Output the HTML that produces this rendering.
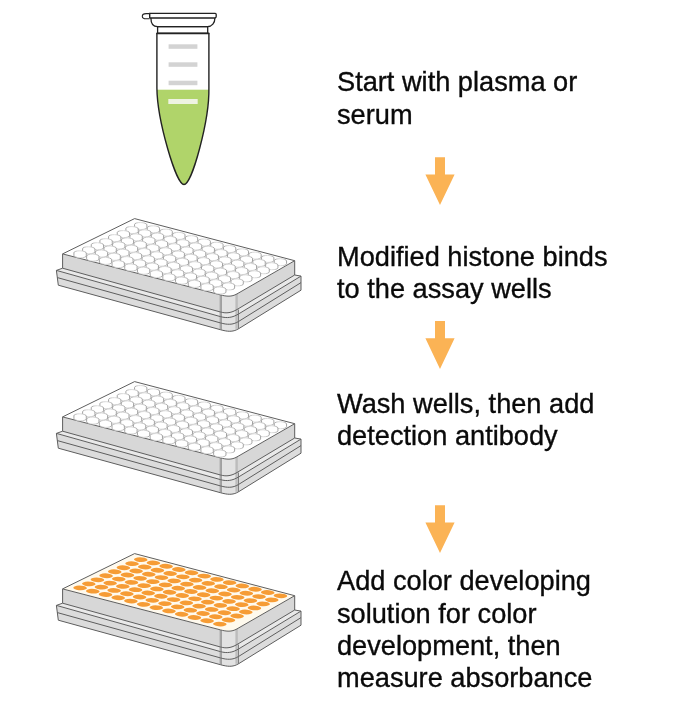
<!DOCTYPE html>
<html><head><meta charset="utf-8"><style>
html,body{margin:0;padding:0;background:#fff;}
body{width:700px;height:714px;overflow:hidden;}
svg{display:block;}
text{font-family:"Liberation Sans",sans-serif;font-size:27.2px;fill:#0a0a0a;stroke:#0a0a0a;stroke-width:0.35px;}
.tx{filter:blur(0.25px);}
.gr{filter:blur(0.3px);}
</style></head><body>
<svg width="700" height="714" viewBox="0 0 700 714">
<defs><linearGradient id="wg" x1="0" y1="0" x2="1" y2="0"><stop offset="0" stop-color="#969696"/><stop offset="0.25" stop-color="#c8c8c8"/><stop offset="0.5" stop-color="#dadada"/><stop offset="0.75" stop-color="#c8c8c8"/><stop offset="1" stop-color="#969696"/></linearGradient></defs>
<g class="gr">
<path d="M156.9,33 L156.9,88 C157.2,120 176,184.5 184,184.5 C192,184.5 209.5,120 208.9,88 L208.9,33 Z" fill="#fff"/>
<clipPath id="tc"><path d="M156.9,33 L156.9,88 C157.2,120 176,184.5 184,184.5 C192,184.5 209.5,120 208.9,88 L208.9,33 Z"/></clipPath>
<rect x="150" y="89.7" width="70" height="100" fill="#B0D46A" clip-path="url(#tc)"/>
<rect x="168.6" y="44.3" width="28.8" height="4.5" fill="#d3d3d3"/>
<rect x="168.6" y="62.3" width="28.8" height="4.5" fill="#d3d3d3"/>
<rect x="168.6" y="80.7" width="28.8" height="4.5" fill="#d3d3d3"/>
<rect x="168.3" y="99" width="29.4" height="5" fill="#eef3e2"/>
<path d="M156.9,33 L156.9,88 C157.2,120 176,184.5 184,184.5 C192,184.5 209.5,120 208.9,88 L208.9,33" fill="none" stroke="#222" stroke-width="1.4"/>
<path d="M157.6,26.6 L207.7,26.6 L207.7,33.3 L157.6,33.3 Z" fill="#fff" stroke="#222" stroke-width="1.3"/>
<line x1="156.5" y1="33.3" x2="209.3" y2="33.3" stroke="#222" stroke-width="1.8"/>
<path d="M150.9,17.9 C150.9,23 153,26.6 157.6,26.6 L207.5,26.6 C212,26.6 214.9,23 214.9,17.9" fill="#fff" stroke="#222" stroke-width="1.3"/>
<path d="M149.6,13.4 L215.2,13.4 Q216.2,13.4 216.2,14.6 L216.2,16.6 Q216.2,18 214.8,18 L149.6,18 Z" fill="#fff" stroke="#222" stroke-width="1.3"/>
<path d="M149.6,13.6 L146.2,13.6 C143.6,13.6 142.3,15 142.3,16.2 C142.3,17.5 143.6,18.8 146.2,18.8 L149.6,18.8" fill="#fff" stroke="#222" stroke-width="1.1"/>
<line x1="149.6" y1="13.4" x2="149.6" y2="18" stroke="#222" stroke-width="1.2"/>
<path d="M56.40,270.40 L220.40,316.60 C227.09,318.48 232.56,317.60 238.50,314.00 L301.00,276.10 L301.00,290.20 L238.50,328.80 C232.64,332.42 227.04,331.52 220.40,329.70 L58.30,285.20 Z" fill="#dcdcdc"/>
<path d="M220.40,316.60 C227.09,318.48 232.56,317.60 238.50,314.00 L238.50,328.80 C232.64,332.42 227.04,331.52 220.40,329.70 Z" fill="#e2e2e2"/>
<path d="M62.60,268.20 L220.50,312.00 C226.61,313.70 231.56,312.75 237.00,309.50 L294.70,275.00 L301.00,276.10 L238.50,314.00 C232.56,317.60 227.09,318.48 220.40,316.60 L56.40,270.40 Z" fill="#e9e9e9"/>
<path d="M62.60,253.90 L220.50,294.90 C226.58,296.48 231.56,297.03 237.00,293.90 L294.70,260.70 L294.70,275.00 L237.00,309.50 C231.56,312.75 226.61,313.70 220.50,312.00 L62.60,268.20 Z" fill="#d7d7d7"/>
<path d="M220.50,294.90 C226.58,296.48 231.56,297.03 237.00,293.90 L237.00,309.50 C231.56,312.75 226.61,313.70 220.50,312.00 Z" fill="#e2e2e2"/>
<rect x="219.30" y="294.90" width="2.4" height="34.80" fill="#bcbcbc"/>
<rect x="235.40" y="293.90" width="2.4" height="34.90" fill="#bcbcbc"/>
<path d="M62.60,268.20 L220.50,312.00 C226.61,313.70 231.56,312.75 237.00,309.50 L294.70,275.00" fill="none" stroke="#5e5e5e" stroke-width="1.0"/>
<path d="M56.40,270.40 L220.40,316.60 C227.09,318.48 232.56,317.60 238.50,314.00 L301.00,276.10" fill="none" stroke="#5e5e5e" stroke-width="1.0"/>
<path d="M57.40,277.60 L220.40,322.90 C227.05,324.75 232.64,325.15 238.50,321.50 L301.00,282.60" fill="none" stroke="#5e5e5e" stroke-width="1.0"/>
<path d="M58.30,285.20 L220.40,329.70 C227.04,331.52 232.64,332.42 238.50,328.80 L301.00,290.20" fill="none" stroke="#5e5e5e" stroke-width="1.0"/>
<line x1="62.60" y1="253.90" x2="62.60" y2="268.20" stroke="#5e5e5e" stroke-width="1.0"/>
<line x1="62.60" y1="268.20" x2="56.40" y2="270.40" stroke="#5e5e5e" stroke-width="1.0"/>
<line x1="56.40" y1="270.40" x2="58.30" y2="285.20" stroke="#5e5e5e" stroke-width="1.0"/>
<line x1="294.70" y1="260.70" x2="294.70" y2="275.00" stroke="#5e5e5e" stroke-width="1.0"/>
<line x1="294.70" y1="275.00" x2="301.00" y2="276.10" stroke="#5e5e5e" stroke-width="1.0"/>
<line x1="301.00" y1="276.10" x2="301.00" y2="290.20" stroke="#5e5e5e" stroke-width="1.0"/>
<line x1="221.10" y1="294.90" x2="221.10" y2="329.70" stroke="#777" stroke-width="0.8"/>
<line x1="238.50" y1="309.50" x2="238.50" y2="328.80" stroke="#666" stroke-width="0.8"/>
<path d="M62.60,253.90 L134.60,218.60 L294.70,260.70 L237.00,293.90 C231.56,297.03 226.58,296.48 220.50,294.90 Z" fill="#fff" stroke="#5e5e5e" stroke-width="1.0" stroke-linejoin="round"/>
<path d="M134.57,224.44 A6.152,2.076 -178.14 0 1 146.87,224.80 L146.87,227.60 A6.152,2.076 -178.14 0 1 134.57,227.24 Z" fill="#fff" stroke="url(#wg)" stroke-width="0.9"/>
<path d="M147.27,227.73 A6.152,2.076 -178.14 0 1 159.57,228.09 L159.57,230.89 A6.152,2.076 -178.14 0 1 147.27,230.53 Z" fill="#fff" stroke="url(#wg)" stroke-width="0.9"/>
<path d="M125.91,228.48 A6.152,2.076 -178.14 0 1 138.21,228.84 L138.21,231.64 A6.152,2.076 -178.14 0 1 125.91,231.28 Z" fill="#fff" stroke="url(#wg)" stroke-width="0.9"/>
<path d="M159.97,231.02 A6.152,2.076 -178.14 0 1 172.27,231.38 L172.27,234.18 A6.152,2.076 -178.14 0 1 159.97,233.82 Z" fill="#fff" stroke="url(#wg)" stroke-width="0.9"/>
<path d="M138.61,231.77 A6.152,2.076 -178.14 0 1 150.91,232.13 L150.91,234.93 A6.152,2.076 -178.14 0 1 138.61,234.57 Z" fill="#fff" stroke="url(#wg)" stroke-width="0.9"/>
<path d="M117.25,232.52 A6.152,2.076 -178.14 0 1 129.55,232.88 L129.55,235.68 A6.152,2.076 -178.14 0 1 117.25,235.32 Z" fill="#fff" stroke="url(#wg)" stroke-width="0.9"/>
<path d="M172.67,234.31 A6.152,2.076 -178.14 0 1 184.97,234.67 L184.97,237.47 A6.152,2.076 -178.14 0 1 172.67,237.11 Z" fill="#fff" stroke="url(#wg)" stroke-width="0.9"/>
<path d="M151.31,235.06 A6.152,2.076 -178.14 0 1 163.61,235.42 L163.61,238.22 A6.152,2.076 -178.14 0 1 151.31,237.86 Z" fill="#fff" stroke="url(#wg)" stroke-width="0.9"/>
<path d="M129.95,235.81 A6.152,2.076 -178.14 0 1 142.25,236.17 L142.25,238.97 A6.152,2.076 -178.14 0 1 129.95,238.61 Z" fill="#fff" stroke="url(#wg)" stroke-width="0.9"/>
<path d="M108.59,236.56 A6.152,2.076 -178.14 0 1 120.89,236.92 L120.89,239.72 A6.152,2.076 -178.14 0 1 108.59,239.36 Z" fill="#fff" stroke="url(#wg)" stroke-width="0.9"/>
<path d="M185.37,237.60 A6.152,2.076 -178.14 0 1 197.67,237.96 L197.67,240.76 A6.152,2.076 -178.14 0 1 185.37,240.40 Z" fill="#fff" stroke="url(#wg)" stroke-width="0.9"/>
<path d="M164.01,238.35 A6.152,2.076 -178.14 0 1 176.31,238.71 L176.31,241.51 A6.152,2.076 -178.14 0 1 164.01,241.15 Z" fill="#fff" stroke="url(#wg)" stroke-width="0.9"/>
<path d="M142.65,239.10 A6.152,2.076 -178.14 0 1 154.95,239.46 L154.95,242.26 A6.152,2.076 -178.14 0 1 142.65,241.90 Z" fill="#fff" stroke="url(#wg)" stroke-width="0.9"/>
<path d="M121.29,239.85 A6.152,2.076 -178.14 0 1 133.59,240.21 L133.59,243.01 A6.152,2.076 -178.14 0 1 121.29,242.65 Z" fill="#fff" stroke="url(#wg)" stroke-width="0.9"/>
<path d="M99.93,240.60 A6.152,2.076 -178.14 0 1 112.23,240.96 L112.23,243.76 A6.152,2.076 -178.14 0 1 99.93,243.40 Z" fill="#fff" stroke="url(#wg)" stroke-width="0.9"/>
<path d="M198.07,240.89 A6.152,2.076 -178.14 0 1 210.37,241.25 L210.37,244.05 A6.152,2.076 -178.14 0 1 198.07,243.69 Z" fill="#fff" stroke="url(#wg)" stroke-width="0.9"/>
<path d="M176.71,241.64 A6.152,2.076 -178.14 0 1 189.01,242.00 L189.01,244.80 A6.152,2.076 -178.14 0 1 176.71,244.44 Z" fill="#fff" stroke="url(#wg)" stroke-width="0.9"/>
<path d="M155.35,242.39 A6.152,2.076 -178.14 0 1 167.65,242.75 L167.65,245.55 A6.152,2.076 -178.14 0 1 155.35,245.19 Z" fill="#fff" stroke="url(#wg)" stroke-width="0.9"/>
<path d="M133.99,243.14 A6.152,2.076 -178.14 0 1 146.29,243.50 L146.29,246.30 A6.152,2.076 -178.14 0 1 133.99,245.94 Z" fill="#fff" stroke="url(#wg)" stroke-width="0.9"/>
<path d="M112.63,243.89 A6.152,2.076 -178.14 0 1 124.93,244.25 L124.93,247.05 A6.152,2.076 -178.14 0 1 112.63,246.69 Z" fill="#fff" stroke="url(#wg)" stroke-width="0.9"/>
<path d="M210.77,244.18 A6.152,2.076 -178.14 0 1 223.07,244.54 L223.07,247.34 A6.152,2.076 -178.14 0 1 210.77,246.98 Z" fill="#fff" stroke="url(#wg)" stroke-width="0.9"/>
<path d="M91.27,244.64 A6.152,2.076 -178.14 0 1 103.57,245.00 L103.57,247.80 A6.152,2.076 -178.14 0 1 91.27,247.44 Z" fill="#fff" stroke="url(#wg)" stroke-width="0.9"/>
<path d="M189.41,244.93 A6.152,2.076 -178.14 0 1 201.71,245.29 L201.71,248.09 A6.152,2.076 -178.14 0 1 189.41,247.73 Z" fill="#fff" stroke="url(#wg)" stroke-width="0.9"/>
<path d="M168.05,245.68 A6.152,2.076 -178.14 0 1 180.35,246.04 L180.35,248.84 A6.152,2.076 -178.14 0 1 168.05,248.48 Z" fill="#fff" stroke="url(#wg)" stroke-width="0.9"/>
<path d="M146.69,246.43 A6.152,2.076 -178.14 0 1 158.99,246.79 L158.99,249.59 A6.152,2.076 -178.14 0 1 146.69,249.23 Z" fill="#fff" stroke="url(#wg)" stroke-width="0.9"/>
<path d="M125.33,247.18 A6.152,2.076 -178.14 0 1 137.63,247.54 L137.63,250.34 A6.152,2.076 -178.14 0 1 125.33,249.98 Z" fill="#fff" stroke="url(#wg)" stroke-width="0.9"/>
<path d="M223.47,247.47 A6.152,2.076 -178.14 0 1 235.77,247.83 L235.77,250.63 A6.152,2.076 -178.14 0 1 223.47,250.27 Z" fill="#fff" stroke="url(#wg)" stroke-width="0.9"/>
<path d="M103.97,247.93 A6.152,2.076 -178.14 0 1 116.27,248.29 L116.27,251.09 A6.152,2.076 -178.14 0 1 103.97,250.73 Z" fill="#fff" stroke="url(#wg)" stroke-width="0.9"/>
<path d="M202.11,248.22 A6.152,2.076 -178.14 0 1 214.41,248.58 L214.41,251.38 A6.152,2.076 -178.14 0 1 202.11,251.02 Z" fill="#fff" stroke="url(#wg)" stroke-width="0.9"/>
<path d="M82.61,248.68 A6.152,2.076 -178.14 0 1 94.91,249.04 L94.91,251.84 A6.152,2.076 -178.14 0 1 82.61,251.48 Z" fill="#fff" stroke="url(#wg)" stroke-width="0.9"/>
<path d="M180.75,248.97 A6.152,2.076 -178.14 0 1 193.05,249.33 L193.05,252.13 A6.152,2.076 -178.14 0 1 180.75,251.77 Z" fill="#fff" stroke="url(#wg)" stroke-width="0.9"/>
<path d="M159.39,249.72 A6.152,2.076 -178.14 0 1 171.69,250.08 L171.69,252.88 A6.152,2.076 -178.14 0 1 159.39,252.52 Z" fill="#fff" stroke="url(#wg)" stroke-width="0.9"/>
<path d="M138.03,250.47 A6.152,2.076 -178.14 0 1 150.33,250.83 L150.33,253.63 A6.152,2.076 -178.14 0 1 138.03,253.27 Z" fill="#fff" stroke="url(#wg)" stroke-width="0.9"/>
<path d="M236.17,250.76 A6.152,2.076 -178.14 0 1 248.47,251.12 L248.47,253.92 A6.152,2.076 -178.14 0 1 236.17,253.56 Z" fill="#fff" stroke="url(#wg)" stroke-width="0.9"/>
<path d="M116.67,251.22 A6.152,2.076 -178.14 0 1 128.97,251.58 L128.97,254.38 A6.152,2.076 -178.14 0 1 116.67,254.02 Z" fill="#fff" stroke="url(#wg)" stroke-width="0.9"/>
<path d="M214.81,251.51 A6.152,2.076 -178.14 0 1 227.11,251.87 L227.11,254.67 A6.152,2.076 -178.14 0 1 214.81,254.31 Z" fill="#fff" stroke="url(#wg)" stroke-width="0.9"/>
<path d="M95.31,251.97 A6.152,2.076 -178.14 0 1 107.61,252.33 L107.61,255.13 A6.152,2.076 -178.14 0 1 95.31,254.77 Z" fill="#fff" stroke="url(#wg)" stroke-width="0.9"/>
<path d="M193.45,252.26 A6.152,2.076 -178.14 0 1 205.75,252.62 L205.75,255.42 A6.152,2.076 -178.14 0 1 193.45,255.06 Z" fill="#fff" stroke="url(#wg)" stroke-width="0.9"/>
<path d="M73.95,252.72 A6.152,2.076 -178.14 0 1 86.25,253.08 L86.25,255.88 A6.152,2.076 -178.14 0 1 73.95,255.52 Z" fill="#fff" stroke="url(#wg)" stroke-width="0.9"/>
<path d="M172.09,253.01 A6.152,2.076 -178.14 0 1 184.39,253.37 L184.39,256.17 A6.152,2.076 -178.14 0 1 172.09,255.81 Z" fill="#fff" stroke="url(#wg)" stroke-width="0.9"/>
<path d="M150.73,253.76 A6.152,2.076 -178.14 0 1 163.03,254.12 L163.03,256.92 A6.152,2.076 -178.14 0 1 150.73,256.56 Z" fill="#fff" stroke="url(#wg)" stroke-width="0.9"/>
<path d="M248.87,254.05 A6.152,2.076 -178.14 0 1 261.17,254.41 L261.17,257.21 A6.152,2.076 -178.14 0 1 248.87,256.85 Z" fill="#fff" stroke="url(#wg)" stroke-width="0.9"/>
<path d="M129.37,254.51 A6.152,2.076 -178.14 0 1 141.67,254.87 L141.67,257.67 A6.152,2.076 -178.14 0 1 129.37,257.31 Z" fill="#fff" stroke="url(#wg)" stroke-width="0.9"/>
<path d="M227.51,254.80 A6.152,2.076 -178.14 0 1 239.81,255.16 L239.81,257.96 A6.152,2.076 -178.14 0 1 227.51,257.60 Z" fill="#fff" stroke="url(#wg)" stroke-width="0.9"/>
<path d="M108.01,255.26 A6.152,2.076 -178.14 0 1 120.31,255.62 L120.31,258.42 A6.152,2.076 -178.14 0 1 108.01,258.06 Z" fill="#fff" stroke="url(#wg)" stroke-width="0.9"/>
<path d="M206.15,255.55 A6.152,2.076 -178.14 0 1 218.45,255.91 L218.45,258.71 A6.152,2.076 -178.14 0 1 206.15,258.35 Z" fill="#fff" stroke="url(#wg)" stroke-width="0.9"/>
<path d="M86.65,256.01 A6.152,2.076 -178.14 0 1 98.95,256.37 L98.95,259.17 A6.152,2.076 -178.14 0 1 86.65,258.81 Z" fill="#fff" stroke="url(#wg)" stroke-width="0.9"/>
<path d="M184.79,256.30 A6.152,2.076 -178.14 0 1 197.09,256.66 L197.09,259.46 A6.152,2.076 -178.14 0 1 184.79,259.10 Z" fill="#fff" stroke="url(#wg)" stroke-width="0.9"/>
<path d="M163.43,257.05 A6.152,2.076 -178.14 0 1 175.73,257.41 L175.73,260.21 A6.152,2.076 -178.14 0 1 163.43,259.85 Z" fill="#fff" stroke="url(#wg)" stroke-width="0.9"/>
<path d="M261.57,257.34 A6.152,2.076 -178.14 0 1 273.87,257.70 L273.87,260.50 A6.152,2.076 -178.14 0 1 261.57,260.14 Z" fill="#fff" stroke="url(#wg)" stroke-width="0.9"/>
<path d="M142.07,257.80 A6.152,2.076 -178.14 0 1 154.37,258.16 L154.37,260.96 A6.152,2.076 -178.14 0 1 142.07,260.60 Z" fill="#fff" stroke="url(#wg)" stroke-width="0.9"/>
<path d="M240.21,258.09 A6.152,2.076 -178.14 0 1 252.51,258.45 L252.51,261.25 A6.152,2.076 -178.14 0 1 240.21,260.89 Z" fill="#fff" stroke="url(#wg)" stroke-width="0.9"/>
<path d="M120.71,258.55 A6.152,2.076 -178.14 0 1 133.01,258.91 L133.01,261.71 A6.152,2.076 -178.14 0 1 120.71,261.35 Z" fill="#fff" stroke="url(#wg)" stroke-width="0.9"/>
<path d="M218.85,258.84 A6.152,2.076 -178.14 0 1 231.15,259.20 L231.15,262.00 A6.152,2.076 -178.14 0 1 218.85,261.64 Z" fill="#fff" stroke="url(#wg)" stroke-width="0.9"/>
<path d="M99.35,259.30 A6.152,2.076 -178.14 0 1 111.65,259.66 L111.65,262.46 A6.152,2.076 -178.14 0 1 99.35,262.10 Z" fill="#fff" stroke="url(#wg)" stroke-width="0.9"/>
<path d="M197.49,259.59 A6.152,2.076 -178.14 0 1 209.79,259.95 L209.79,262.75 A6.152,2.076 -178.14 0 1 197.49,262.39 Z" fill="#fff" stroke="url(#wg)" stroke-width="0.9"/>
<path d="M176.13,260.34 A6.152,2.076 -178.14 0 1 188.43,260.70 L188.43,263.50 A6.152,2.076 -178.14 0 1 176.13,263.14 Z" fill="#fff" stroke="url(#wg)" stroke-width="0.9"/>
<path d="M274.27,260.63 A6.152,2.076 -178.14 0 1 286.57,260.99 L286.57,263.79 A6.152,2.076 -178.14 0 1 274.27,263.43 Z" fill="#fff" stroke="url(#wg)" stroke-width="0.9"/>
<path d="M154.77,261.09 A6.152,2.076 -178.14 0 1 167.07,261.45 L167.07,264.25 A6.152,2.076 -178.14 0 1 154.77,263.89 Z" fill="#fff" stroke="url(#wg)" stroke-width="0.9"/>
<path d="M252.91,261.38 A6.152,2.076 -178.14 0 1 265.21,261.74 L265.21,264.54 A6.152,2.076 -178.14 0 1 252.91,264.18 Z" fill="#fff" stroke="url(#wg)" stroke-width="0.9"/>
<path d="M133.41,261.84 A6.152,2.076 -178.14 0 1 145.71,262.20 L145.71,265.00 A6.152,2.076 -178.14 0 1 133.41,264.64 Z" fill="#fff" stroke="url(#wg)" stroke-width="0.9"/>
<path d="M231.55,262.13 A6.152,2.076 -178.14 0 1 243.85,262.49 L243.85,265.29 A6.152,2.076 -178.14 0 1 231.55,264.93 Z" fill="#fff" stroke="url(#wg)" stroke-width="0.9"/>
<path d="M112.05,262.59 A6.152,2.076 -178.14 0 1 124.35,262.95 L124.35,265.75 A6.152,2.076 -178.14 0 1 112.05,265.39 Z" fill="#fff" stroke="url(#wg)" stroke-width="0.9"/>
<path d="M210.19,262.88 A6.152,2.076 -178.14 0 1 222.49,263.24 L222.49,266.04 A6.152,2.076 -178.14 0 1 210.19,265.68 Z" fill="#fff" stroke="url(#wg)" stroke-width="0.9"/>
<path d="M188.83,263.63 A6.152,2.076 -178.14 0 1 201.13,263.99 L201.13,266.79 A6.152,2.076 -178.14 0 1 188.83,266.43 Z" fill="#fff" stroke="url(#wg)" stroke-width="0.9"/>
<path d="M167.47,264.38 A6.152,2.076 -178.14 0 1 179.77,264.74 L179.77,267.54 A6.152,2.076 -178.14 0 1 167.47,267.18 Z" fill="#fff" stroke="url(#wg)" stroke-width="0.9"/>
<path d="M265.61,264.67 A6.152,2.076 -178.14 0 1 277.91,265.03 L277.91,267.83 A6.152,2.076 -178.14 0 1 265.61,267.47 Z" fill="#fff" stroke="url(#wg)" stroke-width="0.9"/>
<path d="M146.11,265.13 A6.152,2.076 -178.14 0 1 158.41,265.49 L158.41,268.29 A6.152,2.076 -178.14 0 1 146.11,267.93 Z" fill="#fff" stroke="url(#wg)" stroke-width="0.9"/>
<path d="M244.25,265.42 A6.152,2.076 -178.14 0 1 256.55,265.78 L256.55,268.58 A6.152,2.076 -178.14 0 1 244.25,268.22 Z" fill="#fff" stroke="url(#wg)" stroke-width="0.9"/>
<path d="M124.75,265.88 A6.152,2.076 -178.14 0 1 137.05,266.24 L137.05,269.04 A6.152,2.076 -178.14 0 1 124.75,268.68 Z" fill="#fff" stroke="url(#wg)" stroke-width="0.9"/>
<path d="M222.89,266.17 A6.152,2.076 -178.14 0 1 235.19,266.53 L235.19,269.33 A6.152,2.076 -178.14 0 1 222.89,268.97 Z" fill="#fff" stroke="url(#wg)" stroke-width="0.9"/>
<path d="M201.53,266.92 A6.152,2.076 -178.14 0 1 213.83,267.28 L213.83,270.08 A6.152,2.076 -178.14 0 1 201.53,269.72 Z" fill="#fff" stroke="url(#wg)" stroke-width="0.9"/>
<path d="M180.17,267.67 A6.152,2.076 -178.14 0 1 192.47,268.03 L192.47,270.83 A6.152,2.076 -178.14 0 1 180.17,270.47 Z" fill="#fff" stroke="url(#wg)" stroke-width="0.9"/>
<path d="M158.81,268.42 A6.152,2.076 -178.14 0 1 171.11,268.78 L171.11,271.58 A6.152,2.076 -178.14 0 1 158.81,271.22 Z" fill="#fff" stroke="url(#wg)" stroke-width="0.9"/>
<path d="M256.95,268.71 A6.152,2.076 -178.14 0 1 269.25,269.07 L269.25,271.87 A6.152,2.076 -178.14 0 1 256.95,271.51 Z" fill="#fff" stroke="url(#wg)" stroke-width="0.9"/>
<path d="M137.45,269.17 A6.152,2.076 -178.14 0 1 149.75,269.53 L149.75,272.33 A6.152,2.076 -178.14 0 1 137.45,271.97 Z" fill="#fff" stroke="url(#wg)" stroke-width="0.9"/>
<path d="M235.59,269.46 A6.152,2.076 -178.14 0 1 247.89,269.82 L247.89,272.62 A6.152,2.076 -178.14 0 1 235.59,272.26 Z" fill="#fff" stroke="url(#wg)" stroke-width="0.9"/>
<path d="M214.23,270.21 A6.152,2.076 -178.14 0 1 226.53,270.57 L226.53,273.37 A6.152,2.076 -178.14 0 1 214.23,273.01 Z" fill="#fff" stroke="url(#wg)" stroke-width="0.9"/>
<path d="M192.87,270.96 A6.152,2.076 -178.14 0 1 205.17,271.32 L205.17,274.12 A6.152,2.076 -178.14 0 1 192.87,273.76 Z" fill="#fff" stroke="url(#wg)" stroke-width="0.9"/>
<path d="M171.51,271.71 A6.152,2.076 -178.14 0 1 183.81,272.07 L183.81,274.87 A6.152,2.076 -178.14 0 1 171.51,274.51 Z" fill="#fff" stroke="url(#wg)" stroke-width="0.9"/>
<path d="M150.15,272.46 A6.152,2.076 -178.14 0 1 162.45,272.82 L162.45,275.62 A6.152,2.076 -178.14 0 1 150.15,275.26 Z" fill="#fff" stroke="url(#wg)" stroke-width="0.9"/>
<path d="M248.29,272.75 A6.152,2.076 -178.14 0 1 260.59,273.11 L260.59,275.91 A6.152,2.076 -178.14 0 1 248.29,275.55 Z" fill="#fff" stroke="url(#wg)" stroke-width="0.9"/>
<path d="M226.93,273.50 A6.152,2.076 -178.14 0 1 239.23,273.86 L239.23,276.66 A6.152,2.076 -178.14 0 1 226.93,276.30 Z" fill="#fff" stroke="url(#wg)" stroke-width="0.9"/>
<path d="M205.57,274.25 A6.152,2.076 -178.14 0 1 217.87,274.61 L217.87,277.41 A6.152,2.076 -178.14 0 1 205.57,277.05 Z" fill="#fff" stroke="url(#wg)" stroke-width="0.9"/>
<path d="M184.21,275.00 A6.152,2.076 -178.14 0 1 196.51,275.36 L196.51,278.16 A6.152,2.076 -178.14 0 1 184.21,277.80 Z" fill="#fff" stroke="url(#wg)" stroke-width="0.9"/>
<path d="M162.85,275.75 A6.152,2.076 -178.14 0 1 175.15,276.11 L175.15,278.91 A6.152,2.076 -178.14 0 1 162.85,278.55 Z" fill="#fff" stroke="url(#wg)" stroke-width="0.9"/>
<path d="M239.63,276.79 A6.152,2.076 -178.14 0 1 251.93,277.15 L251.93,279.95 A6.152,2.076 -178.14 0 1 239.63,279.59 Z" fill="#fff" stroke="url(#wg)" stroke-width="0.9"/>
<path d="M218.27,277.54 A6.152,2.076 -178.14 0 1 230.57,277.90 L230.57,280.70 A6.152,2.076 -178.14 0 1 218.27,280.34 Z" fill="#fff" stroke="url(#wg)" stroke-width="0.9"/>
<path d="M196.91,278.29 A6.152,2.076 -178.14 0 1 209.21,278.65 L209.21,281.45 A6.152,2.076 -178.14 0 1 196.91,281.09 Z" fill="#fff" stroke="url(#wg)" stroke-width="0.9"/>
<path d="M175.55,279.04 A6.152,2.076 -178.14 0 1 187.85,279.40 L187.85,282.20 A6.152,2.076 -178.14 0 1 175.55,281.84 Z" fill="#fff" stroke="url(#wg)" stroke-width="0.9"/>
<path d="M230.97,280.83 A6.152,2.076 -178.14 0 1 243.27,281.19 L243.27,283.99 A6.152,2.076 -178.14 0 1 230.97,283.63 Z" fill="#fff" stroke="url(#wg)" stroke-width="0.9"/>
<path d="M209.61,281.58 A6.152,2.076 -178.14 0 1 221.91,281.94 L221.91,284.74 A6.152,2.076 -178.14 0 1 209.61,284.38 Z" fill="#fff" stroke="url(#wg)" stroke-width="0.9"/>
<path d="M188.25,282.33 A6.152,2.076 -178.14 0 1 200.55,282.69 L200.55,285.49 A6.152,2.076 -178.14 0 1 188.25,285.13 Z" fill="#fff" stroke="url(#wg)" stroke-width="0.9"/>
<path d="M222.31,284.87 A6.152,2.076 -178.14 0 1 234.61,285.23 L234.61,288.03 A6.152,2.076 -178.14 0 1 222.31,287.67 Z" fill="#fff" stroke="url(#wg)" stroke-width="0.9"/>
<path d="M200.95,285.62 A6.152,2.076 -178.14 0 1 213.25,285.98 L213.25,288.78 A6.152,2.076 -178.14 0 1 200.95,288.42 Z" fill="#fff" stroke="url(#wg)" stroke-width="0.9"/>
<path d="M213.65,288.91 A6.152,2.076 -178.14 0 1 225.95,289.27 L225.95,292.07 A6.152,2.076 -178.14 0 1 213.65,291.71 Z" fill="#fff" stroke="url(#wg)" stroke-width="0.9"/>
<path d="M56.40,433.40 L220.40,479.60 C227.09,481.48 232.56,480.60 238.50,477.00 L301.00,439.10 L301.00,453.20 L238.50,491.80 C232.64,495.42 227.04,494.52 220.40,492.70 L58.30,448.20 Z" fill="#dcdcdc"/>
<path d="M220.40,479.60 C227.09,481.48 232.56,480.60 238.50,477.00 L238.50,491.80 C232.64,495.42 227.04,494.52 220.40,492.70 Z" fill="#e2e2e2"/>
<path d="M62.60,431.20 L220.50,475.00 C226.61,476.70 231.56,475.75 237.00,472.50 L294.70,438.00 L301.00,439.10 L238.50,477.00 C232.56,480.60 227.09,481.48 220.40,479.60 L56.40,433.40 Z" fill="#e9e9e9"/>
<path d="M62.60,416.90 L220.50,457.90 C226.58,459.48 231.56,460.03 237.00,456.90 L294.70,423.70 L294.70,438.00 L237.00,472.50 C231.56,475.75 226.61,476.70 220.50,475.00 L62.60,431.20 Z" fill="#d7d7d7"/>
<path d="M220.50,457.90 C226.58,459.48 231.56,460.03 237.00,456.90 L237.00,472.50 C231.56,475.75 226.61,476.70 220.50,475.00 Z" fill="#e2e2e2"/>
<rect x="219.30" y="457.90" width="2.4" height="34.80" fill="#bcbcbc"/>
<rect x="235.40" y="456.90" width="2.4" height="34.90" fill="#bcbcbc"/>
<path d="M62.60,431.20 L220.50,475.00 C226.61,476.70 231.56,475.75 237.00,472.50 L294.70,438.00" fill="none" stroke="#5e5e5e" stroke-width="1.0"/>
<path d="M56.40,433.40 L220.40,479.60 C227.09,481.48 232.56,480.60 238.50,477.00 L301.00,439.10" fill="none" stroke="#5e5e5e" stroke-width="1.0"/>
<path d="M57.40,440.60 L220.40,485.90 C227.05,487.75 232.64,488.15 238.50,484.50 L301.00,445.60" fill="none" stroke="#5e5e5e" stroke-width="1.0"/>
<path d="M58.30,448.20 L220.40,492.70 C227.04,494.52 232.64,495.42 238.50,491.80 L301.00,453.20" fill="none" stroke="#5e5e5e" stroke-width="1.0"/>
<line x1="62.60" y1="416.90" x2="62.60" y2="431.20" stroke="#5e5e5e" stroke-width="1.0"/>
<line x1="62.60" y1="431.20" x2="56.40" y2="433.40" stroke="#5e5e5e" stroke-width="1.0"/>
<line x1="56.40" y1="433.40" x2="58.30" y2="448.20" stroke="#5e5e5e" stroke-width="1.0"/>
<line x1="294.70" y1="423.70" x2="294.70" y2="438.00" stroke="#5e5e5e" stroke-width="1.0"/>
<line x1="294.70" y1="438.00" x2="301.00" y2="439.10" stroke="#5e5e5e" stroke-width="1.0"/>
<line x1="301.00" y1="439.10" x2="301.00" y2="453.20" stroke="#5e5e5e" stroke-width="1.0"/>
<line x1="221.10" y1="457.90" x2="221.10" y2="492.70" stroke="#777" stroke-width="0.8"/>
<line x1="238.50" y1="472.50" x2="238.50" y2="491.80" stroke="#666" stroke-width="0.8"/>
<path d="M62.60,416.90 L134.60,381.60 L294.70,423.70 L237.00,456.90 C231.56,460.03 226.58,459.48 220.50,457.90 Z" fill="#fff" stroke="#5e5e5e" stroke-width="1.0" stroke-linejoin="round"/>
<path d="M134.57,387.44 A6.152,2.076 -178.14 0 1 146.87,387.80 L146.87,390.60 A6.152,2.076 -178.14 0 1 134.57,390.24 Z" fill="#fff" stroke="url(#wg)" stroke-width="0.9"/>
<path d="M147.27,390.73 A6.152,2.076 -178.14 0 1 159.57,391.09 L159.57,393.89 A6.152,2.076 -178.14 0 1 147.27,393.53 Z" fill="#fff" stroke="url(#wg)" stroke-width="0.9"/>
<path d="M125.91,391.48 A6.152,2.076 -178.14 0 1 138.21,391.84 L138.21,394.64 A6.152,2.076 -178.14 0 1 125.91,394.28 Z" fill="#fff" stroke="url(#wg)" stroke-width="0.9"/>
<path d="M159.97,394.02 A6.152,2.076 -178.14 0 1 172.27,394.38 L172.27,397.18 A6.152,2.076 -178.14 0 1 159.97,396.82 Z" fill="#fff" stroke="url(#wg)" stroke-width="0.9"/>
<path d="M138.61,394.77 A6.152,2.076 -178.14 0 1 150.91,395.13 L150.91,397.93 A6.152,2.076 -178.14 0 1 138.61,397.57 Z" fill="#fff" stroke="url(#wg)" stroke-width="0.9"/>
<path d="M117.25,395.52 A6.152,2.076 -178.14 0 1 129.55,395.88 L129.55,398.68 A6.152,2.076 -178.14 0 1 117.25,398.32 Z" fill="#fff" stroke="url(#wg)" stroke-width="0.9"/>
<path d="M172.67,397.31 A6.152,2.076 -178.14 0 1 184.97,397.67 L184.97,400.47 A6.152,2.076 -178.14 0 1 172.67,400.11 Z" fill="#fff" stroke="url(#wg)" stroke-width="0.9"/>
<path d="M151.31,398.06 A6.152,2.076 -178.14 0 1 163.61,398.42 L163.61,401.22 A6.152,2.076 -178.14 0 1 151.31,400.86 Z" fill="#fff" stroke="url(#wg)" stroke-width="0.9"/>
<path d="M129.95,398.81 A6.152,2.076 -178.14 0 1 142.25,399.17 L142.25,401.97 A6.152,2.076 -178.14 0 1 129.95,401.61 Z" fill="#fff" stroke="url(#wg)" stroke-width="0.9"/>
<path d="M108.59,399.56 A6.152,2.076 -178.14 0 1 120.89,399.92 L120.89,402.72 A6.152,2.076 -178.14 0 1 108.59,402.36 Z" fill="#fff" stroke="url(#wg)" stroke-width="0.9"/>
<path d="M185.37,400.60 A6.152,2.076 -178.14 0 1 197.67,400.96 L197.67,403.76 A6.152,2.076 -178.14 0 1 185.37,403.40 Z" fill="#fff" stroke="url(#wg)" stroke-width="0.9"/>
<path d="M164.01,401.35 A6.152,2.076 -178.14 0 1 176.31,401.71 L176.31,404.51 A6.152,2.076 -178.14 0 1 164.01,404.15 Z" fill="#fff" stroke="url(#wg)" stroke-width="0.9"/>
<path d="M142.65,402.10 A6.152,2.076 -178.14 0 1 154.95,402.46 L154.95,405.26 A6.152,2.076 -178.14 0 1 142.65,404.90 Z" fill="#fff" stroke="url(#wg)" stroke-width="0.9"/>
<path d="M121.29,402.85 A6.152,2.076 -178.14 0 1 133.59,403.21 L133.59,406.01 A6.152,2.076 -178.14 0 1 121.29,405.65 Z" fill="#fff" stroke="url(#wg)" stroke-width="0.9"/>
<path d="M99.93,403.60 A6.152,2.076 -178.14 0 1 112.23,403.96 L112.23,406.76 A6.152,2.076 -178.14 0 1 99.93,406.40 Z" fill="#fff" stroke="url(#wg)" stroke-width="0.9"/>
<path d="M198.07,403.89 A6.152,2.076 -178.14 0 1 210.37,404.25 L210.37,407.05 A6.152,2.076 -178.14 0 1 198.07,406.69 Z" fill="#fff" stroke="url(#wg)" stroke-width="0.9"/>
<path d="M176.71,404.64 A6.152,2.076 -178.14 0 1 189.01,405.00 L189.01,407.80 A6.152,2.076 -178.14 0 1 176.71,407.44 Z" fill="#fff" stroke="url(#wg)" stroke-width="0.9"/>
<path d="M155.35,405.39 A6.152,2.076 -178.14 0 1 167.65,405.75 L167.65,408.55 A6.152,2.076 -178.14 0 1 155.35,408.19 Z" fill="#fff" stroke="url(#wg)" stroke-width="0.9"/>
<path d="M133.99,406.14 A6.152,2.076 -178.14 0 1 146.29,406.50 L146.29,409.30 A6.152,2.076 -178.14 0 1 133.99,408.94 Z" fill="#fff" stroke="url(#wg)" stroke-width="0.9"/>
<path d="M112.63,406.89 A6.152,2.076 -178.14 0 1 124.93,407.25 L124.93,410.05 A6.152,2.076 -178.14 0 1 112.63,409.69 Z" fill="#fff" stroke="url(#wg)" stroke-width="0.9"/>
<path d="M210.77,407.18 A6.152,2.076 -178.14 0 1 223.07,407.54 L223.07,410.34 A6.152,2.076 -178.14 0 1 210.77,409.98 Z" fill="#fff" stroke="url(#wg)" stroke-width="0.9"/>
<path d="M91.27,407.64 A6.152,2.076 -178.14 0 1 103.57,408.00 L103.57,410.80 A6.152,2.076 -178.14 0 1 91.27,410.44 Z" fill="#fff" stroke="url(#wg)" stroke-width="0.9"/>
<path d="M189.41,407.93 A6.152,2.076 -178.14 0 1 201.71,408.29 L201.71,411.09 A6.152,2.076 -178.14 0 1 189.41,410.73 Z" fill="#fff" stroke="url(#wg)" stroke-width="0.9"/>
<path d="M168.05,408.68 A6.152,2.076 -178.14 0 1 180.35,409.04 L180.35,411.84 A6.152,2.076 -178.14 0 1 168.05,411.48 Z" fill="#fff" stroke="url(#wg)" stroke-width="0.9"/>
<path d="M146.69,409.43 A6.152,2.076 -178.14 0 1 158.99,409.79 L158.99,412.59 A6.152,2.076 -178.14 0 1 146.69,412.23 Z" fill="#fff" stroke="url(#wg)" stroke-width="0.9"/>
<path d="M125.33,410.18 A6.152,2.076 -178.14 0 1 137.63,410.54 L137.63,413.34 A6.152,2.076 -178.14 0 1 125.33,412.98 Z" fill="#fff" stroke="url(#wg)" stroke-width="0.9"/>
<path d="M223.47,410.47 A6.152,2.076 -178.14 0 1 235.77,410.83 L235.77,413.63 A6.152,2.076 -178.14 0 1 223.47,413.27 Z" fill="#fff" stroke="url(#wg)" stroke-width="0.9"/>
<path d="M103.97,410.93 A6.152,2.076 -178.14 0 1 116.27,411.29 L116.27,414.09 A6.152,2.076 -178.14 0 1 103.97,413.73 Z" fill="#fff" stroke="url(#wg)" stroke-width="0.9"/>
<path d="M202.11,411.22 A6.152,2.076 -178.14 0 1 214.41,411.58 L214.41,414.38 A6.152,2.076 -178.14 0 1 202.11,414.02 Z" fill="#fff" stroke="url(#wg)" stroke-width="0.9"/>
<path d="M82.61,411.68 A6.152,2.076 -178.14 0 1 94.91,412.04 L94.91,414.84 A6.152,2.076 -178.14 0 1 82.61,414.48 Z" fill="#fff" stroke="url(#wg)" stroke-width="0.9"/>
<path d="M180.75,411.97 A6.152,2.076 -178.14 0 1 193.05,412.33 L193.05,415.13 A6.152,2.076 -178.14 0 1 180.75,414.77 Z" fill="#fff" stroke="url(#wg)" stroke-width="0.9"/>
<path d="M159.39,412.72 A6.152,2.076 -178.14 0 1 171.69,413.08 L171.69,415.88 A6.152,2.076 -178.14 0 1 159.39,415.52 Z" fill="#fff" stroke="url(#wg)" stroke-width="0.9"/>
<path d="M138.03,413.47 A6.152,2.076 -178.14 0 1 150.33,413.83 L150.33,416.63 A6.152,2.076 -178.14 0 1 138.03,416.27 Z" fill="#fff" stroke="url(#wg)" stroke-width="0.9"/>
<path d="M236.17,413.76 A6.152,2.076 -178.14 0 1 248.47,414.12 L248.47,416.92 A6.152,2.076 -178.14 0 1 236.17,416.56 Z" fill="#fff" stroke="url(#wg)" stroke-width="0.9"/>
<path d="M116.67,414.22 A6.152,2.076 -178.14 0 1 128.97,414.58 L128.97,417.38 A6.152,2.076 -178.14 0 1 116.67,417.02 Z" fill="#fff" stroke="url(#wg)" stroke-width="0.9"/>
<path d="M214.81,414.51 A6.152,2.076 -178.14 0 1 227.11,414.87 L227.11,417.67 A6.152,2.076 -178.14 0 1 214.81,417.31 Z" fill="#fff" stroke="url(#wg)" stroke-width="0.9"/>
<path d="M95.31,414.97 A6.152,2.076 -178.14 0 1 107.61,415.33 L107.61,418.13 A6.152,2.076 -178.14 0 1 95.31,417.77 Z" fill="#fff" stroke="url(#wg)" stroke-width="0.9"/>
<path d="M193.45,415.26 A6.152,2.076 -178.14 0 1 205.75,415.62 L205.75,418.42 A6.152,2.076 -178.14 0 1 193.45,418.06 Z" fill="#fff" stroke="url(#wg)" stroke-width="0.9"/>
<path d="M73.95,415.72 A6.152,2.076 -178.14 0 1 86.25,416.08 L86.25,418.88 A6.152,2.076 -178.14 0 1 73.95,418.52 Z" fill="#fff" stroke="url(#wg)" stroke-width="0.9"/>
<path d="M172.09,416.01 A6.152,2.076 -178.14 0 1 184.39,416.37 L184.39,419.17 A6.152,2.076 -178.14 0 1 172.09,418.81 Z" fill="#fff" stroke="url(#wg)" stroke-width="0.9"/>
<path d="M150.73,416.76 A6.152,2.076 -178.14 0 1 163.03,417.12 L163.03,419.92 A6.152,2.076 -178.14 0 1 150.73,419.56 Z" fill="#fff" stroke="url(#wg)" stroke-width="0.9"/>
<path d="M248.87,417.05 A6.152,2.076 -178.14 0 1 261.17,417.41 L261.17,420.21 A6.152,2.076 -178.14 0 1 248.87,419.85 Z" fill="#fff" stroke="url(#wg)" stroke-width="0.9"/>
<path d="M129.37,417.51 A6.152,2.076 -178.14 0 1 141.67,417.87 L141.67,420.67 A6.152,2.076 -178.14 0 1 129.37,420.31 Z" fill="#fff" stroke="url(#wg)" stroke-width="0.9"/>
<path d="M227.51,417.80 A6.152,2.076 -178.14 0 1 239.81,418.16 L239.81,420.96 A6.152,2.076 -178.14 0 1 227.51,420.60 Z" fill="#fff" stroke="url(#wg)" stroke-width="0.9"/>
<path d="M108.01,418.26 A6.152,2.076 -178.14 0 1 120.31,418.62 L120.31,421.42 A6.152,2.076 -178.14 0 1 108.01,421.06 Z" fill="#fff" stroke="url(#wg)" stroke-width="0.9"/>
<path d="M206.15,418.55 A6.152,2.076 -178.14 0 1 218.45,418.91 L218.45,421.71 A6.152,2.076 -178.14 0 1 206.15,421.35 Z" fill="#fff" stroke="url(#wg)" stroke-width="0.9"/>
<path d="M86.65,419.01 A6.152,2.076 -178.14 0 1 98.95,419.37 L98.95,422.17 A6.152,2.076 -178.14 0 1 86.65,421.81 Z" fill="#fff" stroke="url(#wg)" stroke-width="0.9"/>
<path d="M184.79,419.30 A6.152,2.076 -178.14 0 1 197.09,419.66 L197.09,422.46 A6.152,2.076 -178.14 0 1 184.79,422.10 Z" fill="#fff" stroke="url(#wg)" stroke-width="0.9"/>
<path d="M163.43,420.05 A6.152,2.076 -178.14 0 1 175.73,420.41 L175.73,423.21 A6.152,2.076 -178.14 0 1 163.43,422.85 Z" fill="#fff" stroke="url(#wg)" stroke-width="0.9"/>
<path d="M261.57,420.34 A6.152,2.076 -178.14 0 1 273.87,420.70 L273.87,423.50 A6.152,2.076 -178.14 0 1 261.57,423.14 Z" fill="#fff" stroke="url(#wg)" stroke-width="0.9"/>
<path d="M142.07,420.80 A6.152,2.076 -178.14 0 1 154.37,421.16 L154.37,423.96 A6.152,2.076 -178.14 0 1 142.07,423.60 Z" fill="#fff" stroke="url(#wg)" stroke-width="0.9"/>
<path d="M240.21,421.09 A6.152,2.076 -178.14 0 1 252.51,421.45 L252.51,424.25 A6.152,2.076 -178.14 0 1 240.21,423.89 Z" fill="#fff" stroke="url(#wg)" stroke-width="0.9"/>
<path d="M120.71,421.55 A6.152,2.076 -178.14 0 1 133.01,421.91 L133.01,424.71 A6.152,2.076 -178.14 0 1 120.71,424.35 Z" fill="#fff" stroke="url(#wg)" stroke-width="0.9"/>
<path d="M218.85,421.84 A6.152,2.076 -178.14 0 1 231.15,422.20 L231.15,425.00 A6.152,2.076 -178.14 0 1 218.85,424.64 Z" fill="#fff" stroke="url(#wg)" stroke-width="0.9"/>
<path d="M99.35,422.30 A6.152,2.076 -178.14 0 1 111.65,422.66 L111.65,425.46 A6.152,2.076 -178.14 0 1 99.35,425.10 Z" fill="#fff" stroke="url(#wg)" stroke-width="0.9"/>
<path d="M197.49,422.59 A6.152,2.076 -178.14 0 1 209.79,422.95 L209.79,425.75 A6.152,2.076 -178.14 0 1 197.49,425.39 Z" fill="#fff" stroke="url(#wg)" stroke-width="0.9"/>
<path d="M176.13,423.34 A6.152,2.076 -178.14 0 1 188.43,423.70 L188.43,426.50 A6.152,2.076 -178.14 0 1 176.13,426.14 Z" fill="#fff" stroke="url(#wg)" stroke-width="0.9"/>
<path d="M274.27,423.63 A6.152,2.076 -178.14 0 1 286.57,423.99 L286.57,426.79 A6.152,2.076 -178.14 0 1 274.27,426.43 Z" fill="#fff" stroke="url(#wg)" stroke-width="0.9"/>
<path d="M154.77,424.09 A6.152,2.076 -178.14 0 1 167.07,424.45 L167.07,427.25 A6.152,2.076 -178.14 0 1 154.77,426.89 Z" fill="#fff" stroke="url(#wg)" stroke-width="0.9"/>
<path d="M252.91,424.38 A6.152,2.076 -178.14 0 1 265.21,424.74 L265.21,427.54 A6.152,2.076 -178.14 0 1 252.91,427.18 Z" fill="#fff" stroke="url(#wg)" stroke-width="0.9"/>
<path d="M133.41,424.84 A6.152,2.076 -178.14 0 1 145.71,425.20 L145.71,428.00 A6.152,2.076 -178.14 0 1 133.41,427.64 Z" fill="#fff" stroke="url(#wg)" stroke-width="0.9"/>
<path d="M231.55,425.13 A6.152,2.076 -178.14 0 1 243.85,425.49 L243.85,428.29 A6.152,2.076 -178.14 0 1 231.55,427.93 Z" fill="#fff" stroke="url(#wg)" stroke-width="0.9"/>
<path d="M112.05,425.59 A6.152,2.076 -178.14 0 1 124.35,425.95 L124.35,428.75 A6.152,2.076 -178.14 0 1 112.05,428.39 Z" fill="#fff" stroke="url(#wg)" stroke-width="0.9"/>
<path d="M210.19,425.88 A6.152,2.076 -178.14 0 1 222.49,426.24 L222.49,429.04 A6.152,2.076 -178.14 0 1 210.19,428.68 Z" fill="#fff" stroke="url(#wg)" stroke-width="0.9"/>
<path d="M188.83,426.63 A6.152,2.076 -178.14 0 1 201.13,426.99 L201.13,429.79 A6.152,2.076 -178.14 0 1 188.83,429.43 Z" fill="#fff" stroke="url(#wg)" stroke-width="0.9"/>
<path d="M167.47,427.38 A6.152,2.076 -178.14 0 1 179.77,427.74 L179.77,430.54 A6.152,2.076 -178.14 0 1 167.47,430.18 Z" fill="#fff" stroke="url(#wg)" stroke-width="0.9"/>
<path d="M265.61,427.67 A6.152,2.076 -178.14 0 1 277.91,428.03 L277.91,430.83 A6.152,2.076 -178.14 0 1 265.61,430.47 Z" fill="#fff" stroke="url(#wg)" stroke-width="0.9"/>
<path d="M146.11,428.13 A6.152,2.076 -178.14 0 1 158.41,428.49 L158.41,431.29 A6.152,2.076 -178.14 0 1 146.11,430.93 Z" fill="#fff" stroke="url(#wg)" stroke-width="0.9"/>
<path d="M244.25,428.42 A6.152,2.076 -178.14 0 1 256.55,428.78 L256.55,431.58 A6.152,2.076 -178.14 0 1 244.25,431.22 Z" fill="#fff" stroke="url(#wg)" stroke-width="0.9"/>
<path d="M124.75,428.88 A6.152,2.076 -178.14 0 1 137.05,429.24 L137.05,432.04 A6.152,2.076 -178.14 0 1 124.75,431.68 Z" fill="#fff" stroke="url(#wg)" stroke-width="0.9"/>
<path d="M222.89,429.17 A6.152,2.076 -178.14 0 1 235.19,429.53 L235.19,432.33 A6.152,2.076 -178.14 0 1 222.89,431.97 Z" fill="#fff" stroke="url(#wg)" stroke-width="0.9"/>
<path d="M201.53,429.92 A6.152,2.076 -178.14 0 1 213.83,430.28 L213.83,433.08 A6.152,2.076 -178.14 0 1 201.53,432.72 Z" fill="#fff" stroke="url(#wg)" stroke-width="0.9"/>
<path d="M180.17,430.67 A6.152,2.076 -178.14 0 1 192.47,431.03 L192.47,433.83 A6.152,2.076 -178.14 0 1 180.17,433.47 Z" fill="#fff" stroke="url(#wg)" stroke-width="0.9"/>
<path d="M158.81,431.42 A6.152,2.076 -178.14 0 1 171.11,431.78 L171.11,434.58 A6.152,2.076 -178.14 0 1 158.81,434.22 Z" fill="#fff" stroke="url(#wg)" stroke-width="0.9"/>
<path d="M256.95,431.71 A6.152,2.076 -178.14 0 1 269.25,432.07 L269.25,434.87 A6.152,2.076 -178.14 0 1 256.95,434.51 Z" fill="#fff" stroke="url(#wg)" stroke-width="0.9"/>
<path d="M137.45,432.17 A6.152,2.076 -178.14 0 1 149.75,432.53 L149.75,435.33 A6.152,2.076 -178.14 0 1 137.45,434.97 Z" fill="#fff" stroke="url(#wg)" stroke-width="0.9"/>
<path d="M235.59,432.46 A6.152,2.076 -178.14 0 1 247.89,432.82 L247.89,435.62 A6.152,2.076 -178.14 0 1 235.59,435.26 Z" fill="#fff" stroke="url(#wg)" stroke-width="0.9"/>
<path d="M214.23,433.21 A6.152,2.076 -178.14 0 1 226.53,433.57 L226.53,436.37 A6.152,2.076 -178.14 0 1 214.23,436.01 Z" fill="#fff" stroke="url(#wg)" stroke-width="0.9"/>
<path d="M192.87,433.96 A6.152,2.076 -178.14 0 1 205.17,434.32 L205.17,437.12 A6.152,2.076 -178.14 0 1 192.87,436.76 Z" fill="#fff" stroke="url(#wg)" stroke-width="0.9"/>
<path d="M171.51,434.71 A6.152,2.076 -178.14 0 1 183.81,435.07 L183.81,437.87 A6.152,2.076 -178.14 0 1 171.51,437.51 Z" fill="#fff" stroke="url(#wg)" stroke-width="0.9"/>
<path d="M150.15,435.46 A6.152,2.076 -178.14 0 1 162.45,435.82 L162.45,438.62 A6.152,2.076 -178.14 0 1 150.15,438.26 Z" fill="#fff" stroke="url(#wg)" stroke-width="0.9"/>
<path d="M248.29,435.75 A6.152,2.076 -178.14 0 1 260.59,436.11 L260.59,438.91 A6.152,2.076 -178.14 0 1 248.29,438.55 Z" fill="#fff" stroke="url(#wg)" stroke-width="0.9"/>
<path d="M226.93,436.50 A6.152,2.076 -178.14 0 1 239.23,436.86 L239.23,439.66 A6.152,2.076 -178.14 0 1 226.93,439.30 Z" fill="#fff" stroke="url(#wg)" stroke-width="0.9"/>
<path d="M205.57,437.25 A6.152,2.076 -178.14 0 1 217.87,437.61 L217.87,440.41 A6.152,2.076 -178.14 0 1 205.57,440.05 Z" fill="#fff" stroke="url(#wg)" stroke-width="0.9"/>
<path d="M184.21,438.00 A6.152,2.076 -178.14 0 1 196.51,438.36 L196.51,441.16 A6.152,2.076 -178.14 0 1 184.21,440.80 Z" fill="#fff" stroke="url(#wg)" stroke-width="0.9"/>
<path d="M162.85,438.75 A6.152,2.076 -178.14 0 1 175.15,439.11 L175.15,441.91 A6.152,2.076 -178.14 0 1 162.85,441.55 Z" fill="#fff" stroke="url(#wg)" stroke-width="0.9"/>
<path d="M239.63,439.79 A6.152,2.076 -178.14 0 1 251.93,440.15 L251.93,442.95 A6.152,2.076 -178.14 0 1 239.63,442.59 Z" fill="#fff" stroke="url(#wg)" stroke-width="0.9"/>
<path d="M218.27,440.54 A6.152,2.076 -178.14 0 1 230.57,440.90 L230.57,443.70 A6.152,2.076 -178.14 0 1 218.27,443.34 Z" fill="#fff" stroke="url(#wg)" stroke-width="0.9"/>
<path d="M196.91,441.29 A6.152,2.076 -178.14 0 1 209.21,441.65 L209.21,444.45 A6.152,2.076 -178.14 0 1 196.91,444.09 Z" fill="#fff" stroke="url(#wg)" stroke-width="0.9"/>
<path d="M175.55,442.04 A6.152,2.076 -178.14 0 1 187.85,442.40 L187.85,445.20 A6.152,2.076 -178.14 0 1 175.55,444.84 Z" fill="#fff" stroke="url(#wg)" stroke-width="0.9"/>
<path d="M230.97,443.83 A6.152,2.076 -178.14 0 1 243.27,444.19 L243.27,446.99 A6.152,2.076 -178.14 0 1 230.97,446.63 Z" fill="#fff" stroke="url(#wg)" stroke-width="0.9"/>
<path d="M209.61,444.58 A6.152,2.076 -178.14 0 1 221.91,444.94 L221.91,447.74 A6.152,2.076 -178.14 0 1 209.61,447.38 Z" fill="#fff" stroke="url(#wg)" stroke-width="0.9"/>
<path d="M188.25,445.33 A6.152,2.076 -178.14 0 1 200.55,445.69 L200.55,448.49 A6.152,2.076 -178.14 0 1 188.25,448.13 Z" fill="#fff" stroke="url(#wg)" stroke-width="0.9"/>
<path d="M222.31,447.87 A6.152,2.076 -178.14 0 1 234.61,448.23 L234.61,451.03 A6.152,2.076 -178.14 0 1 222.31,450.67 Z" fill="#fff" stroke="url(#wg)" stroke-width="0.9"/>
<path d="M200.95,448.62 A6.152,2.076 -178.14 0 1 213.25,448.98 L213.25,451.78 A6.152,2.076 -178.14 0 1 200.95,451.42 Z" fill="#fff" stroke="url(#wg)" stroke-width="0.9"/>
<path d="M213.65,451.91 A6.152,2.076 -178.14 0 1 225.95,452.27 L225.95,455.07 A6.152,2.076 -178.14 0 1 213.65,454.71 Z" fill="#fff" stroke="url(#wg)" stroke-width="0.9"/>
<path d="M56.40,605.40 L220.40,651.60 C227.09,653.48 232.56,652.60 238.50,649.00 L301.00,611.10 L301.00,625.20 L238.50,663.80 C232.64,667.42 227.04,666.52 220.40,664.70 L58.30,620.20 Z" fill="#dcdcdc"/>
<path d="M220.40,651.60 C227.09,653.48 232.56,652.60 238.50,649.00 L238.50,663.80 C232.64,667.42 227.04,666.52 220.40,664.70 Z" fill="#e2e2e2"/>
<path d="M62.60,603.20 L220.50,647.00 C226.61,648.70 231.56,647.75 237.00,644.50 L294.70,610.00 L301.00,611.10 L238.50,649.00 C232.56,652.60 227.09,653.48 220.40,651.60 L56.40,605.40 Z" fill="#e9e9e9"/>
<path d="M62.60,588.90 L220.50,629.90 C226.58,631.48 231.56,632.03 237.00,628.90 L294.70,595.70 L294.70,610.00 L237.00,644.50 C231.56,647.75 226.61,648.70 220.50,647.00 L62.60,603.20 Z" fill="#d7d7d7"/>
<path d="M220.50,629.90 C226.58,631.48 231.56,632.03 237.00,628.90 L237.00,644.50 C231.56,647.75 226.61,648.70 220.50,647.00 Z" fill="#e2e2e2"/>
<rect x="219.30" y="629.90" width="2.4" height="34.80" fill="#bcbcbc"/>
<rect x="235.40" y="628.90" width="2.4" height="34.90" fill="#bcbcbc"/>
<path d="M62.60,603.20 L220.50,647.00 C226.61,648.70 231.56,647.75 237.00,644.50 L294.70,610.00" fill="none" stroke="#5e5e5e" stroke-width="1.0"/>
<path d="M56.40,605.40 L220.40,651.60 C227.09,653.48 232.56,652.60 238.50,649.00 L301.00,611.10" fill="none" stroke="#5e5e5e" stroke-width="1.0"/>
<path d="M57.40,612.60 L220.40,657.90 C227.05,659.75 232.64,660.15 238.50,656.50 L301.00,617.60" fill="none" stroke="#5e5e5e" stroke-width="1.0"/>
<path d="M58.30,620.20 L220.40,664.70 C227.04,666.52 232.64,667.42 238.50,663.80 L301.00,625.20" fill="none" stroke="#5e5e5e" stroke-width="1.0"/>
<line x1="62.60" y1="588.90" x2="62.60" y2="603.20" stroke="#5e5e5e" stroke-width="1.0"/>
<line x1="62.60" y1="603.20" x2="56.40" y2="605.40" stroke="#5e5e5e" stroke-width="1.0"/>
<line x1="56.40" y1="605.40" x2="58.30" y2="620.20" stroke="#5e5e5e" stroke-width="1.0"/>
<line x1="294.70" y1="595.70" x2="294.70" y2="610.00" stroke="#5e5e5e" stroke-width="1.0"/>
<line x1="294.70" y1="610.00" x2="301.00" y2="611.10" stroke="#5e5e5e" stroke-width="1.0"/>
<line x1="301.00" y1="611.10" x2="301.00" y2="625.20" stroke="#5e5e5e" stroke-width="1.0"/>
<line x1="221.10" y1="629.90" x2="221.10" y2="664.70" stroke="#777" stroke-width="0.8"/>
<line x1="238.50" y1="644.50" x2="238.50" y2="663.80" stroke="#666" stroke-width="0.8"/>
<path d="M62.60,588.90 L134.60,553.60 L294.70,595.70 L237.00,628.90 C231.56,632.03 226.58,631.48 220.50,629.90 Z" fill="#FFFAEE" stroke="#5e5e5e" stroke-width="1.0" stroke-linejoin="round"/>
<circle r="1" transform="matrix(5.588 1.448 3.810 -1.778 80.10 587.90)" fill="#F69C35"/>
<circle r="1" transform="matrix(5.588 1.448 3.810 -1.778 92.80 591.19)" fill="#F69C35"/>
<circle r="1" transform="matrix(5.588 1.448 3.810 -1.778 105.50 594.48)" fill="#F69C35"/>
<circle r="1" transform="matrix(5.588 1.448 3.810 -1.778 118.20 597.77)" fill="#F69C35"/>
<circle r="1" transform="matrix(5.588 1.448 3.810 -1.778 130.90 601.06)" fill="#F69C35"/>
<circle r="1" transform="matrix(5.588 1.448 3.810 -1.778 143.60 604.35)" fill="#F69C35"/>
<circle r="1" transform="matrix(5.588 1.448 3.810 -1.778 156.30 607.64)" fill="#F69C35"/>
<circle r="1" transform="matrix(5.588 1.448 3.810 -1.778 169.00 610.93)" fill="#F69C35"/>
<circle r="1" transform="matrix(5.588 1.448 3.810 -1.778 181.70 614.22)" fill="#F69C35"/>
<circle r="1" transform="matrix(5.588 1.448 3.810 -1.778 194.40 617.51)" fill="#F69C35"/>
<circle r="1" transform="matrix(5.588 1.448 3.810 -1.778 207.10 620.80)" fill="#F69C35"/>
<circle r="1" transform="matrix(5.588 1.448 3.810 -1.778 219.80 624.09)" fill="#F69C35"/>
<circle r="1" transform="matrix(5.588 1.448 3.810 -1.778 88.76 583.86)" fill="#F69C35"/>
<circle r="1" transform="matrix(5.588 1.448 3.810 -1.778 101.46 587.15)" fill="#F69C35"/>
<circle r="1" transform="matrix(5.588 1.448 3.810 -1.778 114.16 590.44)" fill="#F69C35"/>
<circle r="1" transform="matrix(5.588 1.448 3.810 -1.778 126.86 593.73)" fill="#F69C35"/>
<circle r="1" transform="matrix(5.588 1.448 3.810 -1.778 139.56 597.02)" fill="#F69C35"/>
<circle r="1" transform="matrix(5.588 1.448 3.810 -1.778 152.26 600.31)" fill="#F69C35"/>
<circle r="1" transform="matrix(5.588 1.448 3.810 -1.778 164.96 603.60)" fill="#F69C35"/>
<circle r="1" transform="matrix(5.588 1.448 3.810 -1.778 177.66 606.89)" fill="#F69C35"/>
<circle r="1" transform="matrix(5.588 1.448 3.810 -1.778 190.36 610.18)" fill="#F69C35"/>
<circle r="1" transform="matrix(5.588 1.448 3.810 -1.778 203.06 613.47)" fill="#F69C35"/>
<circle r="1" transform="matrix(5.588 1.448 3.810 -1.778 215.76 616.76)" fill="#F69C35"/>
<circle r="1" transform="matrix(5.588 1.448 3.810 -1.778 228.46 620.05)" fill="#F69C35"/>
<circle r="1" transform="matrix(5.588 1.448 3.810 -1.778 97.42 579.82)" fill="#F69C35"/>
<circle r="1" transform="matrix(5.588 1.448 3.810 -1.778 110.12 583.11)" fill="#F69C35"/>
<circle r="1" transform="matrix(5.588 1.448 3.810 -1.778 122.82 586.40)" fill="#F69C35"/>
<circle r="1" transform="matrix(5.588 1.448 3.810 -1.778 135.52 589.69)" fill="#F69C35"/>
<circle r="1" transform="matrix(5.588 1.448 3.810 -1.778 148.22 592.98)" fill="#F69C35"/>
<circle r="1" transform="matrix(5.588 1.448 3.810 -1.778 160.92 596.27)" fill="#F69C35"/>
<circle r="1" transform="matrix(5.588 1.448 3.810 -1.778 173.62 599.56)" fill="#F69C35"/>
<circle r="1" transform="matrix(5.588 1.448 3.810 -1.778 186.32 602.85)" fill="#F69C35"/>
<circle r="1" transform="matrix(5.588 1.448 3.810 -1.778 199.02 606.14)" fill="#F69C35"/>
<circle r="1" transform="matrix(5.588 1.448 3.810 -1.778 211.72 609.43)" fill="#F69C35"/>
<circle r="1" transform="matrix(5.588 1.448 3.810 -1.778 224.42 612.72)" fill="#F69C35"/>
<circle r="1" transform="matrix(5.588 1.448 3.810 -1.778 237.12 616.01)" fill="#F69C35"/>
<circle r="1" transform="matrix(5.588 1.448 3.810 -1.778 106.08 575.78)" fill="#F69C35"/>
<circle r="1" transform="matrix(5.588 1.448 3.810 -1.778 118.78 579.07)" fill="#F69C35"/>
<circle r="1" transform="matrix(5.588 1.448 3.810 -1.778 131.48 582.36)" fill="#F69C35"/>
<circle r="1" transform="matrix(5.588 1.448 3.810 -1.778 144.18 585.65)" fill="#F69C35"/>
<circle r="1" transform="matrix(5.588 1.448 3.810 -1.778 156.88 588.94)" fill="#F69C35"/>
<circle r="1" transform="matrix(5.588 1.448 3.810 -1.778 169.58 592.23)" fill="#F69C35"/>
<circle r="1" transform="matrix(5.588 1.448 3.810 -1.778 182.28 595.52)" fill="#F69C35"/>
<circle r="1" transform="matrix(5.588 1.448 3.810 -1.778 194.98 598.81)" fill="#F69C35"/>
<circle r="1" transform="matrix(5.588 1.448 3.810 -1.778 207.68 602.10)" fill="#F69C35"/>
<circle r="1" transform="matrix(5.588 1.448 3.810 -1.778 220.38 605.39)" fill="#F69C35"/>
<circle r="1" transform="matrix(5.588 1.448 3.810 -1.778 233.08 608.68)" fill="#F69C35"/>
<circle r="1" transform="matrix(5.588 1.448 3.810 -1.778 245.78 611.97)" fill="#F69C35"/>
<circle r="1" transform="matrix(5.588 1.448 3.810 -1.778 114.74 571.74)" fill="#F69C35"/>
<circle r="1" transform="matrix(5.588 1.448 3.810 -1.778 127.44 575.03)" fill="#F69C35"/>
<circle r="1" transform="matrix(5.588 1.448 3.810 -1.778 140.14 578.32)" fill="#F69C35"/>
<circle r="1" transform="matrix(5.588 1.448 3.810 -1.778 152.84 581.61)" fill="#F69C35"/>
<circle r="1" transform="matrix(5.588 1.448 3.810 -1.778 165.54 584.90)" fill="#F69C35"/>
<circle r="1" transform="matrix(5.588 1.448 3.810 -1.778 178.24 588.19)" fill="#F69C35"/>
<circle r="1" transform="matrix(5.588 1.448 3.810 -1.778 190.94 591.48)" fill="#F69C35"/>
<circle r="1" transform="matrix(5.588 1.448 3.810 -1.778 203.64 594.77)" fill="#F69C35"/>
<circle r="1" transform="matrix(5.588 1.448 3.810 -1.778 216.34 598.06)" fill="#F69C35"/>
<circle r="1" transform="matrix(5.588 1.448 3.810 -1.778 229.04 601.35)" fill="#F69C35"/>
<circle r="1" transform="matrix(5.588 1.448 3.810 -1.778 241.74 604.64)" fill="#F69C35"/>
<circle r="1" transform="matrix(5.588 1.448 3.810 -1.778 254.44 607.93)" fill="#F69C35"/>
<circle r="1" transform="matrix(5.588 1.448 3.810 -1.778 123.40 567.70)" fill="#F69C35"/>
<circle r="1" transform="matrix(5.588 1.448 3.810 -1.778 136.10 570.99)" fill="#F69C35"/>
<circle r="1" transform="matrix(5.588 1.448 3.810 -1.778 148.80 574.28)" fill="#F69C35"/>
<circle r="1" transform="matrix(5.588 1.448 3.810 -1.778 161.50 577.57)" fill="#F69C35"/>
<circle r="1" transform="matrix(5.588 1.448 3.810 -1.778 174.20 580.86)" fill="#F69C35"/>
<circle r="1" transform="matrix(5.588 1.448 3.810 -1.778 186.90 584.15)" fill="#F69C35"/>
<circle r="1" transform="matrix(5.588 1.448 3.810 -1.778 199.60 587.44)" fill="#F69C35"/>
<circle r="1" transform="matrix(5.588 1.448 3.810 -1.778 212.30 590.73)" fill="#F69C35"/>
<circle r="1" transform="matrix(5.588 1.448 3.810 -1.778 225.00 594.02)" fill="#F69C35"/>
<circle r="1" transform="matrix(5.588 1.448 3.810 -1.778 237.70 597.31)" fill="#F69C35"/>
<circle r="1" transform="matrix(5.588 1.448 3.810 -1.778 250.40 600.60)" fill="#F69C35"/>
<circle r="1" transform="matrix(5.588 1.448 3.810 -1.778 263.10 603.89)" fill="#F69C35"/>
<circle r="1" transform="matrix(5.588 1.448 3.810 -1.778 132.06 563.66)" fill="#F69C35"/>
<circle r="1" transform="matrix(5.588 1.448 3.810 -1.778 144.76 566.95)" fill="#F69C35"/>
<circle r="1" transform="matrix(5.588 1.448 3.810 -1.778 157.46 570.24)" fill="#F69C35"/>
<circle r="1" transform="matrix(5.588 1.448 3.810 -1.778 170.16 573.53)" fill="#F69C35"/>
<circle r="1" transform="matrix(5.588 1.448 3.810 -1.778 182.86 576.82)" fill="#F69C35"/>
<circle r="1" transform="matrix(5.588 1.448 3.810 -1.778 195.56 580.11)" fill="#F69C35"/>
<circle r="1" transform="matrix(5.588 1.448 3.810 -1.778 208.26 583.40)" fill="#F69C35"/>
<circle r="1" transform="matrix(5.588 1.448 3.810 -1.778 220.96 586.69)" fill="#F69C35"/>
<circle r="1" transform="matrix(5.588 1.448 3.810 -1.778 233.66 589.98)" fill="#F69C35"/>
<circle r="1" transform="matrix(5.588 1.448 3.810 -1.778 246.36 593.27)" fill="#F69C35"/>
<circle r="1" transform="matrix(5.588 1.448 3.810 -1.778 259.06 596.56)" fill="#F69C35"/>
<circle r="1" transform="matrix(5.588 1.448 3.810 -1.778 271.76 599.85)" fill="#F69C35"/>
<circle r="1" transform="matrix(5.588 1.448 3.810 -1.778 140.72 559.62)" fill="#F69C35"/>
<circle r="1" transform="matrix(5.588 1.448 3.810 -1.778 153.42 562.91)" fill="#F69C35"/>
<circle r="1" transform="matrix(5.588 1.448 3.810 -1.778 166.12 566.20)" fill="#F69C35"/>
<circle r="1" transform="matrix(5.588 1.448 3.810 -1.778 178.82 569.49)" fill="#F69C35"/>
<circle r="1" transform="matrix(5.588 1.448 3.810 -1.778 191.52 572.78)" fill="#F69C35"/>
<circle r="1" transform="matrix(5.588 1.448 3.810 -1.778 204.22 576.07)" fill="#F69C35"/>
<circle r="1" transform="matrix(5.588 1.448 3.810 -1.778 216.92 579.36)" fill="#F69C35"/>
<circle r="1" transform="matrix(5.588 1.448 3.810 -1.778 229.62 582.65)" fill="#F69C35"/>
<circle r="1" transform="matrix(5.588 1.448 3.810 -1.778 242.32 585.94)" fill="#F69C35"/>
<circle r="1" transform="matrix(5.588 1.448 3.810 -1.778 255.02 589.23)" fill="#F69C35"/>
<circle r="1" transform="matrix(5.588 1.448 3.810 -1.778 267.72 592.52)" fill="#F69C35"/>
<circle r="1" transform="matrix(5.588 1.448 3.810 -1.778 280.42 595.81)" fill="#F69C35"/>
<path d="M435,157.3 L445,157.3 L445,174.4 L454.6,174.4 L440,205.1 L425.4,174.4 L435,174.4 Z" fill="#FBB355"/>
<path d="M435,321.1 L445,321.1 L445,338.2 L454.6,338.2 L440,368.9 L425.4,338.2 L435,338.2 Z" fill="#FBB355"/>
<path d="M435,505.3 L445,505.3 L445,522.4 L454.6,522.4 L440,553.1 L425.4,522.4 L435,522.4 Z" fill="#FBB355"/>
</g>
<g class="tx"><text x="337" y="91.4">Start with plasma or</text>
<text x="337" y="123.6">serum</text>
<text x="337" y="266.0">Modified histone binds</text>
<text x="337" y="298.2">to the assay wells</text>
<text x="337" y="413.0">Wash wells, then add</text>
<text x="337" y="445.2">detection antibody</text>
<text x="337" y="590.4">Add color developing</text>
<text x="337" y="622.6">solution for color</text>
<text x="337" y="654.8">development, then</text>
<text x="337" y="687.0">measure absorbance</text></g>
</svg>
</body></html>
